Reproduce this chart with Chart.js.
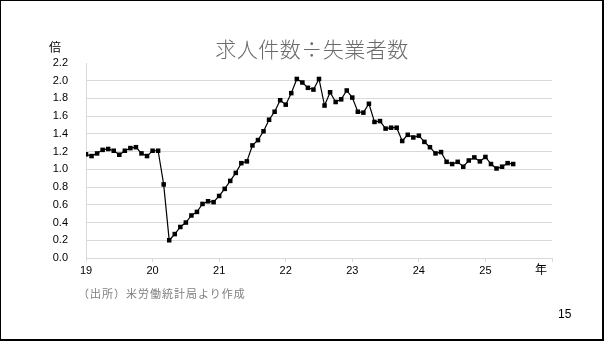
<!DOCTYPE html>
<html>
<head>
<meta charset="utf-8">
<script src="https://cdn.jsdelivr.net/npm/chart.js@4/dist/chart.umd.min.js"></script>
<style>
    html, body { margin: 0; padding: 0; background: #fff; }
    body { position: relative; width: 604px; height: 341px; overflow: hidden; }
    #chart { position: absolute; left: 0; top: 0; }
    #frame {
        position: absolute; left: 0; top: 0; width: 604px; height: 341px;
        box-sizing: border-box; border: 1px solid #000;
        border-right-width: 2px; border-bottom-width: 2px; pointer-events: none;
    }
    .txt { position: absolute; white-space: nowrap; font-family: 'Noto Sans CJK JP', sans-serif; line-height: 1; }
</style>
</head>
<body>
<canvas id="chart" width="604" height="341"></canvas>
<div id="frame"></div>
<div class="txt" id="title" style="left:312px; top:38px; transform:translateX(-50%); font-size:21px; font-weight:300; letter-spacing:0.5px; color:#6a6a6a;">求人件数÷失業者数</div>
<div class="txt" style="left:49px; top:41px; font-size:12px; color:#000;">倍</div>
<div class="txt" style="left:535px; top:263px; font-size:12px; color:#000;">年</div>
<div class="txt" style="left:78px; top:288px; font-size:11px; letter-spacing:1px; color:#7f7f7f;">（出所）米労働統計局より作成</div>
<div class="txt" style="left:558px; top:308px; font-size:12px; color:#000; font-family:'Liberation Sans Narrow','Liberation Sans',sans-serif;">15</div>

<script>
'use strict';

// 年ラベル (x軸)
var yearLabels = ['19', '20', '21', '22', '23', '24', '25'];

// 月次データ (求人件数÷失業者数)
var ratio2019 = [1.17, 1.15, 1.18, 1.22, 1.23, 1.21, 1.165, 1.21, 1.24, 1.25, 1.18, 1.15];
var ratio2020 = [1.21, 1.21, 0.83, 0.20, 0.27, 0.35, 0.40, 0.48, 0.52, 0.61, 0.64, 0.63];
var ratio2021 = [0.70, 0.78, 0.87, 0.96, 1.07, 1.09, 1.27, 1.33, 1.43, 1.56, 1.65, 1.78];
var ratio2022 = [1.73, 1.86, 2.02, 1.98, 1.92, 1.90, 2.02, 1.72, 1.87, 1.76, 1.79, 1.89];
var ratio2023 = [1.81, 1.65, 1.64, 1.74, 1.535, 1.545, 1.46, 1.47, 1.47, 1.32, 1.39, 1.36];
var ratio2024 = [1.38, 1.31, 1.25, 1.18, 1.195, 1.085, 1.06, 1.085, 1.03, 1.10, 1.135, 1.09];
var ratio2025 = [1.14, 1.06, 1.01, 1.03, 1.07, 1.06];

// y軸目盛
var yMin = 0;
var yMax = 2.2;
var yStep = 0.2;

/**
 * Build points
 */
function buildPoints() {
    var all = [].concat(ratio2019, ratio2020, ratio2021, ratio2022, ratio2023, ratio2024, ratio2025);
    return all.map(function(v, i) {
        return { x: i, y: v };
    });
}

/**
 * Init chart
 */
function initChart() {
    var ctx = document.getElementById('chart');
    var numFont = { family: "'Liberation Sans Narrow', 'Liberation Sans', sans-serif", size: 11 };

    new Chart(ctx, {
        type: 'line',
        data: {
            datasets: [{
                data: buildPoints(),
                borderColor: '#000',
                backgroundColor: '#000',
                borderWidth: 1.2,
                pointStyle: 'rect',
                pointRadius: 3.2,
                pointBorderWidth: 0,
                tension: 0
            }]
        },
        options: {
            responsive: false,
            animation: false,
            layout: {
                padding: { top: 63, right: 52, left: 0, bottom: 0 }
            },
            plugins: {
                legend: { display: false },
                tooltip: { enabled: false }
            },
            scales: {
                x: {
                    type: 'linear',
                    min: 0,
                    max: yearLabels.length * 12,
                    afterFit: function(scale) { scale.height = 83; },
                    grid: {
                        drawOnChartArea: false,
                        drawTicks: true,
                        tickLength: 4,
                        color: '#d9d9d9'
                    },
                    border: { color: '#d9d9d9' },
                    ticks: {
                        stepSize: 12,
                        autoSkip: false,
                        maxRotation: 0,
                        padding: 2,
                        color: '#000',
                        font: numFont,
                        callback: function(value) {
                            return yearLabels[value / 12] || '';
                        }
                    }
                },
                y: {
                    min: yMin,
                    max: yMax,
                    afterFit: function(scale) { scale.width = 86; },
                    grid: {
                        drawTicks: false,
                        lineWidth: 1,
                        color: function(c) {
                            return (c.tick && c.tick.value > yMax - 0.01) ? 'rgba(0,0,0,0)' : '#d9d9d9';
                        }
                    },
                    border: { color: '#d9d9d9' },
                    ticks: {
                        stepSize: yStep,
                        padding: 18,
                        color: '#000',
                        font: numFont,
                        callback: function(value) {
                            return value.toFixed(1);
                        }
                    }
                }
            }
        }
    });
}

initChart();
</script>
</body>
</html>
